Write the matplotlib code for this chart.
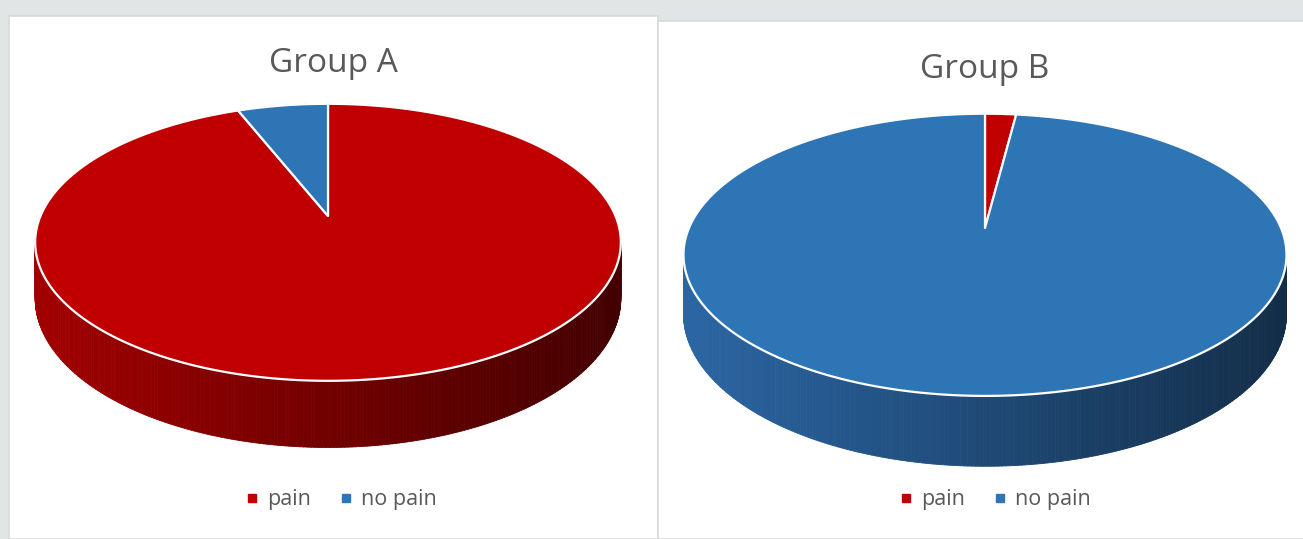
import matplotlib

matplotlib.use("Agg")
import matplotlib.pyplot as plt
import numpy as np
from matplotlib.collections import PolyCollection
from matplotlib.colors import to_rgb
from matplotlib.lines import Line2D
from matplotlib.patches import Polygon

categories = ["pain", "no pain"]
group_a = [94, 6]
group_b = [2, 98]
titles = ["Group A", "Group B"]

TOP = ["#c00000", "#2e75b6"]
SIDE_LEFT = ["#a20000", "#2b66a4"]
SIDE_RIGHT = ["#420000", "#132d48"]
TEXT, BORDER, BG = "#595959", "#d9d9d9", "#e1e5e5"
W, H = 1303, 539
PERSP = 0.19  # how much the far edge shrinks (Excel-style 3D perspective)


def project(pie, theta, z):
    # theta clockwise from 12 o'clock, z=0 top face, z=1 bottom rim
    cx, cy, rx, ry, depth = pie
    u, v = np.sin(theta), np.cos(theta)
    s = 1.0 / (1.0 + PERSP * v)
    return cx + rx * u * s, cy - ry * v * s + depth * z * s


def draw_pie(ax, values, pie):
    cx, cy, rx, ry, depth = pie
    xmin, xmax = cx - rx * 1.02, cx + rx * 1.02
    bounds = np.concatenate([[0], np.cumsum(values)]) / np.sum(values) * 2 * np.pi

    quads, colors, order = [], [], []
    for i in range(len(values)):
        t = np.linspace(bounds[i], bounds[i + 1], max(4, int(600 * values[i] / sum(values))))
        xt, yt = project(pie, t, 0)
        xb, yb = project(pie, t, 1)
        left, right = np.array(to_rgb(SIDE_LEFT[i])), np.array(to_rgb(SIDE_RIGHT[i]))
        for k in range(len(t) - 1):
            quads.append([(xt[k], yt[k]), (xt[k + 1], yt[k + 1]), (xb[k + 1], yb[k + 1]), (xb[k], yb[k])])
            f = np.clip(((xt[k] + xt[k + 1]) / 2 - xmin) / (xmax - xmin), 0, 1)
            colors.append(left + (right - left) * f)
            order.append(-np.cos((t[k] + t[k + 1]) / 2))
    idx = np.argsort(order)
    side = PolyCollection([quads[j] for j in idx], facecolors=[colors[j] for j in idx],
                          edgecolors=[colors[j] for j in idx], linewidths=0.6, zorder=1)
    ax.add_collection(side)

    for i in range(len(values)):
        t = np.linspace(bounds[i], bounds[i + 1], max(4, int(600 * values[i] / sum(values))))
        xt, yt = project(pie, t, 0)
        pts = np.column_stack([np.r_[cx, xt], np.r_[cy, yt]])
        ax.add_patch(Polygon(pts, closed=True, facecolor=TOP[i], edgecolor="white",
                             linewidth=1.6, joinstyle="round", zorder=2))


fig = plt.figure(figsize=(W / 100, H / 100), dpi=100, facecolor=BG)

panels = [(9, 658, 16), (658, 1306, 21)]
pies = [(328, 216, 287.5, 133.5, 54), (985, 228, 296, 136, 57)]
title_pos = [(333, 64), (985, 69)]
legend_pos = [(340, 500), (994, 500)]

for values, title, (l, r, t), pie, tpos, lpos in zip(
        [group_a, group_b], titles, panels, pies, title_pos, legend_pos):
    ax = fig.add_axes([l / W, 0, (r - l) / W, (H - t) / H])
    ax.set_xlim(l, r)
    ax.set_ylim(H, t)
    ax.set_xticks([])
    ax.set_yticks([])
    ax.set_facecolor("white")
    for sp in ax.spines.values():
        sp.set_color(BORDER)
        sp.set_linewidth(1.2)

    draw_pie(ax, values, pie)
    ax.text(*tpos, title, ha="center", va="center", fontsize=24, color=TEXT, family="Open Sans")

    handles = [Line2D([], [], marker="s", linestyle="none", markersize=6, color=c) for c in TOP]
    ax.legend(handles, categories, ncol=2, loc="center", bbox_to_anchor=lpos,
              bbox_transform=ax.transData, frameon=False, handletextpad=0.3,
              columnspacing=1.2, handlelength=0.8,
              prop={"family": "Open Sans", "size": 15.5}, labelcolor=TEXT)

fig.savefig("out.png", dpi=100, facecolor=BG)
